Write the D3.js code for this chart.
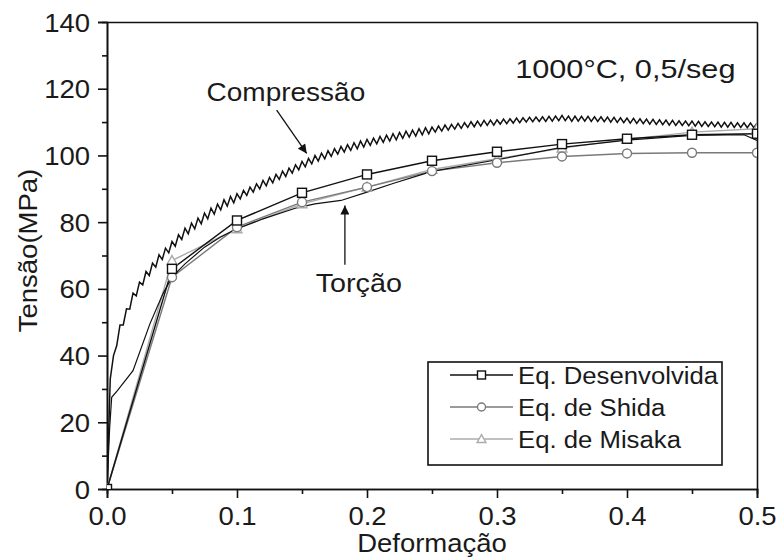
<!DOCTYPE html>
<html><head><meta charset="utf-8">
<script src="https://cdn.jsdelivr.net/npm/d3@7"></script>
<style>
body{margin:0;background:#fff}
svg text{font-family:"Liberation Sans",Arial,sans-serif;fill:#1a1a1a}
</style></head>
<body><svg id="chart" width="777" height="558"></svg>
<script>
// ---------------- data ----------------
const xTicks = [0, 0.1, 0.2, 0.3, 0.4, 0.5];
const xTickLabels = ["0.0", "0.1", "0.2", "0.3", "0.4", "0.5"];
const xMinorTicks = [0.05, 0.15, 0.25, 0.35, 0.45];
const yTicks = [0, 20, 40, 60, 80, 100, 120, 140];
const yMinorTicks = [10, 30, 50, 70, 90, 110, 130];

// Compressão (experimental, serrated)
const compStrain = [
0,0.0025,0.005,0.0075,0.01,0.0125,0.015,0.0175,0.02,0.0225,0.025,0.0275,0.03,0.0325,0.035,0.0375,0.04,0.0425,0.045,0.0475,
0.05,0.0525,0.055,0.0575,0.06,0.0625,0.065,0.0675,0.07,0.0725,0.075,0.0775,0.08,0.0825,0.085,0.0875,0.09,0.0925,0.095,0.0975,
0.1,0.1025,0.105,0.1075,0.11,0.1125,0.115,0.1175,0.12,0.1225,0.125,0.1275,0.13,0.1325,0.135,0.1375,0.14,0.1425,0.145,0.1475,
0.15,0.1525,0.155,0.1575,0.16,0.1625,0.165,0.1675,0.17,0.1725,0.175,0.1775,0.18,0.1825,0.185,0.1875,0.19,0.1925,0.195,0.1975,
0.2,0.2025,0.205,0.2075,0.21,0.2125,0.215,0.2175,0.22,0.2225,0.225,0.2275,0.23,0.2325,0.235,0.2375,0.24,0.2425,0.245,0.2475,
0.25,0.2525,0.255,0.2575,0.26,0.2625,0.265,0.2675,0.27,0.2725,0.275,0.2775,0.28,0.2825,0.285,0.2875,0.29,0.2925,0.295,0.2975,
0.3,0.3025,0.305,0.3075,0.31,0.3125,0.315,0.3175,0.32,0.3225,0.325,0.3275,0.33,0.3325,0.335,0.3375,0.34,0.3425,0.345,0.3475,
0.35,0.3525,0.355,0.3575,0.36,0.3625,0.365,0.3675,0.37,0.3725,0.375,0.3775,0.38,0.3825,0.385,0.3875,0.39,0.3925,0.395,0.3975,
0.4,0.4025,0.405,0.4075,0.41,0.4125,0.415,0.4175,0.42,0.4225,0.425,0.4275,0.43,0.4325,0.435,0.4375,0.44,0.4425,0.445,0.4475,
0.45,0.4525,0.455,0.4575,0.46,0.4625,0.465,0.4675,0.47,0.4725,0.475,0.4775,0.48,0.4825,0.485,0.4875,0.49,0.4925,0.495,0.4975,
0.5];
const compStress = [
0,33,40,43,49.2,49.2,54,53.9,58.7,57.9,62,61.2,65.2,64,67.7,66.5,70.2,68.8,72.2,70.8,
74.2,72.8,76.2,74.8,78.2,76.5,79.7,78,81.2,79.5,82.7,81,84.2,82.4,85.4,83.7,86.7,84.8,87.7,85.8,
88.5,87,89.5,88,90.5,89,91.5,90,92.5,90.9,93.4,91.8,94.3,92.8,95.3,93.7,96.2,94.7,97.2,95.7,
98.2,96.6,99.1,97.5,100,98.3,100.7,99,101.4,99.7,102,100.4,102.7,101,103.2,101.5,103.8,102,104.3,102.5,
104.8,103,105.2,103.5,105.7,103.9,106.1,104.3,106.5,104.7,106.9,105.1,107.3,105.5,107.6,105.8,108,106.2,108.3,106.5,
108.5,107,108.8,107.3,109.1,107.6,109.3,107.9,109.6,108.1,109.8,108.4,110.1,108.6,110.3,108.8,110.5,109,110.6,109.1,
110.7,109.4,110.9,109.5,111,109.7,111.2,109.8,111.3,110,111.4,110.1,111.5,110.2,111.6,110.2,111.7,110.3,111.8,110.4,
112,110.4,111.8,110.2,111.8,110.3,111.7,110.3,111.7,110.2,111.6,110.2,111.6,110.1,111.5,110,111.4,109.9,111.3,109.8,
111.2,109.7,111.1,109.6,111,109.5,110.9,109.4,110.8,109.3,110.7,109.2,110.6,109.1,110.5,109,110.4,109,110.3,108.9,
110.3,108.8,110.2,108.7,110.1,108.7,110,108.6,110,108.5,109.9,108.5,109.9,108.4,109.8,108.4,109.8,108.3,109.7,108.3,
109.7];

// Torção (experimental)
const torStrain = [0,0.002,0.0036,0.008,0.02,0.033,0.043,0.05,0.06,0.075,0.087,0.1,0.12,0.146,0.16,0.18,0.2,0.22,0.24,0.25,0.3,0.35,0.4,0.45,0.49,0.5];
const torStress = [0,18,27.5,29.5,35.5,49.5,58.5,63.5,67.5,72.5,75.5,78,81,84.3,85.5,86.5,89,91.6,94,95.2,98.7,102.4,104.6,106,106.2,104.5];

// Model equations
const modelStrain = [0,0.05,0.1,0.15,0.2,0.25,0.3,0.35,0.4,0.45,0.5];
const eqDesenvolvida = [0,66,80.5,88.8,94.3,98.4,101.1,103.4,105,106.2,106.5];
const eqShida = [0,63.5,78.5,86,90.5,95.3,97.8,99.7,100.6,100.8,100.8];
const eqMisaka = [0,68.5,78,85.5,90.5,95.8,99,102.2,104.8,107,108];

const legendLabels = ["Eq. Desenvolvida", "Eq. de Shida", "Eq. de Misaka"];
const seriesColors = ["#111", "#7a7a7a", "#ababab"];
const seriesSymbols = ["square", "circle", "triangle"];

const xTitle = "Deformação";
const yTitle = "Tensão(MPa)";
const condText = "1000°C, 0,5/seg";
const compLabel = "Compressão";
const torLabel = "Torção";

// ---------------- layout ----------------
const L = 107, R = 757, T = 22, B = 489;
const svg = d3.select("#chart");
const x = d3.scaleLinear().domain([0, 0.5]).range([L, R]);
const y = d3.scaleLinear().domain([0, 140]).range([B, T]);
const SX = 1.1; // horizontal stretch of the lettering

function stretchText(sel, sx) {
  sel.each(function () {
    const t = d3.select(this);
    const tx = +t.attr("x") || 0, ty = +t.attr("y") || 0;
    t.attr("x", null).attr("y", null)
     .attr("transform", `translate(${tx},${ty}) scale(${sx},1)`);
  });
}

const defs = svg.append("defs");
defs.append("clipPath").attr("id", "plotClip")
  .append("rect").attr("x", L).attr("y", T).attr("width", R - L).attr("height", B - T);
defs.append("marker").attr("id", "arrow").attr("viewBox", "0 0 10 10")
  .attr("refX", 10).attr("refY", 5).attr("markerWidth", 11).attr("markerHeight", 9)
  .attr("markerUnits", "userSpaceOnUse").attr("orient", "auto")
  .append("path").attr("d", "M0,0 L10,5 L0,10 Z").attr("fill", "#111");

// ---------------- axes ----------------
const axW = 1.6;
const gxMinor = svg.append("g").attr("transform", `translate(0,${B})`)
  .call(d3.axisBottom(x).tickValues(xMinorTicks).tickSize(5).tickFormat(""));
const gx = svg.append("g").attr("transform", `translate(0,${B})`)
  .call(d3.axisBottom(x).tickValues(xTicks).tickSize(9).tickPadding(8)
    .tickFormat((d, i) => xTickLabels[i]));
gx.selectAll("text").attr("font-size", 25).attr("dy", null).attr("y", 36)
  .style("font-family", '"Liberation Sans",Arial,sans-serif').attr("fill", "#1a1a1a");
stretchText(gx.selectAll("text"), SX);
const gyMinor = svg.append("g").attr("transform", `translate(${L},0)`)
  .call(d3.axisLeft(y).tickValues(yMinorTicks).tickSize(5).tickFormat(""));
const gy = svg.append("g").attr("transform", `translate(${L},0)`)
  .call(d3.axisLeft(y).tickValues(yTicks).tickSize(9).tickPadding(8).tickFormat(d3.format("d")));
gy.selectAll("text").attr("font-size", 25).attr("dy", null).attr("y", 9).attr("x", -17)
  .style("font-family", '"Liberation Sans",Arial,sans-serif').attr("fill", "#1a1a1a");
stretchText(gy.selectAll("text"), SX);
const gt = svg.append("g").attr("transform", `translate(0,${T})`)
  .call(d3.axisTop(x).tickValues(xTicks).tickSize(0).tickFormat(""));
const gr = svg.append("g").attr("transform", `translate(${R},0)`)
  .call(d3.axisRight(y).tickValues([]).tickSize(0).tickFormat(""));
[gxMinor, gx, gyMinor, gy, gt, gr].forEach(g => {
  g.selectAll("path.domain").attr("stroke", "#111").attr("stroke-width", axW);
  g.selectAll(".tick line").attr("stroke", "#111").attr("stroke-width", axW);
});

// axis titles
svg.append("text").attr("font-size", 25).attr("text-anchor", "middle")
  .attr("transform", `translate(${(L + R) / 2},552) scale(${SX},1)`).text(xTitle);
svg.append("text").attr("font-size", 25).attr("text-anchor", "middle")
  .attr("transform", `translate(37,${(T + B) / 2 - 5}) rotate(-90) scale(${SX},1)`).text(yTitle);

// ---------------- series ----------------
const plot = svg.append("g").attr("clip-path", "url(#plotClip)");
const line = d3.line().x(d => x(d[0])).y(d => y(d[1]));

const models = [eqDesenvolvida, eqShida, eqMisaka];
const order = [2, 1, 0];
order.forEach(k => {
  const pts = modelStrain.map((s, i) => [s, models[k][i]]);
  plot.append("path").datum(pts).attr("d", line).attr("fill", "none")
    .attr("stroke", seriesColors[k]).attr("stroke-width", 1.4);
});

plot.append("path").datum(torStrain.map((s, i) => [s, torStress[i]]))
  .attr("d", line).attr("fill", "none").attr("stroke", "#111").attr("stroke-width", 1.2);

plot.append("path").datum(compStrain.map((s, i) => [s, compStress[i]]))
  .attr("d", line).attr("fill", "none").attr("stroke", "#111").attr("stroke-width", 1.5)
  .attr("stroke-linejoin", "miter");

function drawSymbol(g, type, cx, cy, color, size) {
  if (type === "square") {
    g.append("rect").attr("x", cx - size).attr("y", cy - size)
      .attr("width", 2 * size).attr("height", 2 * size)
      .attr("fill", "#fff").attr("stroke", color).attr("stroke-width", 1.4);
  } else if (type === "circle") {
    g.append("circle").attr("cx", cx).attr("cy", cy).attr("r", size)
      .attr("fill", "#fff").attr("stroke", color).attr("stroke-width", 1.4);
  } else {
    const h = size * 1.1;
    g.append("path").attr("d", `M${cx},${cy - h} L${cx + h},${cy + h * 0.8} L${cx - h},${cy + h * 0.8} Z`)
      .attr("fill", "#fff").attr("stroke", color).attr("stroke-width", 1.4);
  }
}
order.forEach(k => {
  modelStrain.forEach((s, i) => {
    drawSymbol(plot, seriesSymbols[k], x(s), y(models[k][i]), seriesColors[k], 4.5);
  });
});

// ---------------- annotations ----------------
svg.append("text").attr("font-size", 25)
  .attr("transform", `translate(${x(0.0766)},${y(116.3)}) scale(1.12,1)`).text(compLabel);
svg.append("line").attr("x1", x(0.1305)).attr("y1", y(113.6)).attr("x2", x(0.1536)).attr("y2", y(100.6))
  .attr("stroke", "#111").attr("stroke-width", 1.3).attr("marker-end", "url(#arrow)");
svg.append("text").attr("font-size", 25)
  .attr("transform", `translate(${x(0.1605)},${y(59)}) scale(1.15,1)`).text(torLabel);
svg.append("line").attr("x1", x(0.183)).attr("y1", y(67.2)).attr("x2", x(0.183)).attr("y2", y(85))
  .attr("stroke", "#111").attr("stroke-width", 1.3).attr("marker-end", "url(#arrow)");
svg.append("text").attr("font-size", 26)
  .attr("transform", `translate(${x(0.314)},${y(123.2)}) scale(1.18,1)`).text(condText);

// ---------------- legend ----------------
const lg = svg.append("g");
lg.append("rect").attr("x", 428).attr("y", 362).attr("width", 294).attr("height", 103)
  .attr("fill", "#fff").attr("stroke", "#111").attr("stroke-width", 1.6);
legendLabels.forEach((lab, k) => {
  const cy = 375 + k * 32;
  lg.append("line").attr("x1", 450).attr("x2", 513).attr("y1", cy).attr("y2", cy)
    .attr("stroke", seriesColors[k]).attr("stroke-width", 1.4);
  drawSymbol(lg, seriesSymbols[k], 481.5, cy, seriesColors[k], 4);
  lg.append("text").attr("font-size", 24.5)
    .attr("transform", `translate(518,${cy + 9}) scale(1.05,1)`).text(lab);
});
</script></body></html>
